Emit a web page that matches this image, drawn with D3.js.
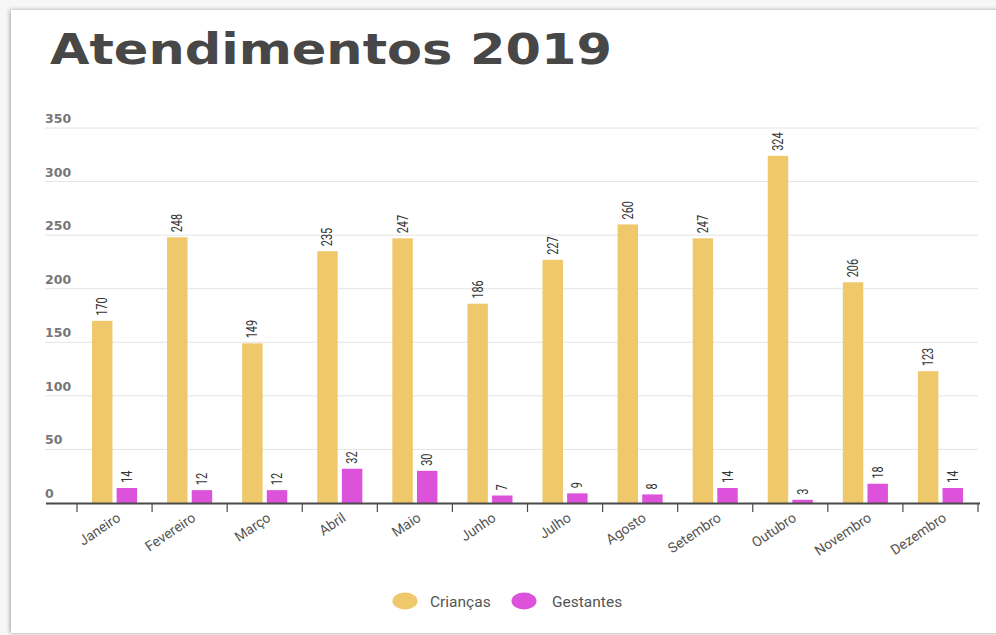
<!DOCTYPE html>
<html>
<head>
<meta charset="utf-8">
<script src="https://cdn.jsdelivr.net/npm/d3@7"></script>
<style>
  html, body { margin: 0; padding: 0; background: #ffffff; }
  svg { display: block; }
</style>
</head>
<body>
<svg id="chart" width="996" height="635"></svg>
<script>
// Monthly attendance, 2019
const months = ["Janeiro", "Fevereiro", "Março", "Abril", "Maio", "Junho",
                "Julho", "Agosto", "Setembro", "Outubro", "Novembro", "Dezembro"];
const criancas = [170, 248, 149, 235, 247, 186, 227, 260, 247, 324, 206, 123];
const gestantes = [14, 12, 12, 32, 30, 7, 9, 8, 14, 3, 18, 14];
const seriesNames = ["Crianças", "Gestantes"];
const seriesColors = ["#EEC86A", "#DD52DA"];
const yTicks = [0, 50, 100, 150, 200, 250, 300, 350];

const rows = months.map((m, i) => ({ month: m, values: [criancas[i], gestantes[i]] }));

const svg = d3.select("#chart");

// card with soft shadow
const defs = svg.append("defs");
const f = defs.append("filter").attr("id", "shadow")
  .attr("x", "-5%").attr("y", "-5%").attr("width", "110%").attr("height", "110%");
f.append("feDropShadow").attr("dx", -1).attr("dy", 0).attr("stdDeviation", 2)
  .attr("flood-color", "#000").attr("flood-opacity", 0.35);
svg.append("rect").attr("width", 996).attr("height", 635).attr("fill", "#f7f7f7");
svg.append("rect").attr("x", 11).attr("y", 10).attr("width", 1000).attr("height", 623)
  .attr("fill", "#fff").attr("filter", "url(#shadow)");

// title
const title = svg.append("text")
  .attr("x", 50).attr("y", 64)
  .attr("font-family", "'DejaVu Sans', sans-serif")
  .attr("font-weight", "bold")
  .attr("font-size", 43)
  .attr("fill", "#474747")
  .text("Atendimentos 2019");
title.attr("textLength", 562).attr("lengthAdjust", "spacingAndGlyphs");

const plotLeft = 77, plotRight = 978, plotTop = 128, plotBottom = 503;

const y = d3.scaleLinear().domain([0, 350]).range([plotBottom, plotTop]);
const x0 = d3.scaleBand().domain(months).range([plotLeft, plotRight]).paddingInner(0).paddingOuter(0);
const x1 = d3.scaleBand().domain([0, 1]).range([15, x0.bandwidth() - 15]).paddingInner(0.17);

// gridlines + y labels
const grid = svg.append("g");
grid.selectAll("line").data(yTicks.filter(d => d > 0)).join("line")
  .attr("x1", 45).attr("x2", plotRight)
  .attr("y1", d => y(d)).attr("y2", d => y(d))
  .attr("stroke", "#e4e4e4").attr("stroke-width", 1);
grid.selectAll("text").data(yTicks).join("text")
  .attr("x", 45).attr("y", d => y(d) - 5)
  .attr("font-family", "'DejaVu Sans', sans-serif")
  .attr("font-weight", "bold")
  .attr("font-size", 12.5)
  .attr("fill", "#777")
  .text(d => d);

// bars
const groups = svg.append("g").selectAll("g").data(rows).join("g")
  .attr("transform", d => `translate(${x0(d.month)},0)`);
groups.selectAll("rect").data(d => d.values).join("rect")
  .attr("x", (d, i) => x1(i))
  .attr("width", x1.bandwidth())
  .attr("y", d => y(d))
  .attr("height", d => y(0) - y(d))
  .attr("fill", (d, i) => seriesColors[i]);
// value labels, condensed and rotated
groups.selectAll("text").data(d => d.values).join("text")
  .attr("transform", (d, i) => `translate(${x1(i) + x1.bandwidth() / 2 + 5},${y(d) - 5}) rotate(-90) scale(0.78,1)`)
  .attr("font-family", "'Roboto', sans-serif")
  .attr("font-size", 14)
  .attr("fill", "#333")
  .text(d => d);

// x axis
const xAxis = svg.append("g");
xAxis.append("line").attr("x1", 46).attr("x2", 980)
  .attr("y1", plotBottom + 0.5).attr("y2", plotBottom + 0.5)
  .attr("stroke", "#4a4a4a").attr("stroke-width", 2);
const bounds = months.map(m => x0(m)).concat([plotRight]);
xAxis.selectAll("line.tick").data(bounds).join("line")
  .attr("class", "tick")
  .attr("x1", d => d).attr("x2", d => d)
  .attr("y1", plotBottom).attr("y2", plotBottom + 9)
  .attr("stroke", "#4a4a4a").attr("stroke-width", 1.2);
xAxis.selectAll("text").data(months).join("text")
  .attr("transform", d => `translate(${x0(d) + x0.bandwidth() / 2 + 7},${plotBottom + 17}) rotate(-34)`)
  .attr("text-anchor", "end")
  .attr("font-family", "'Roboto', sans-serif")
  .attr("font-size", 14)
  .attr("fill", "#555")
  .text(d => d);

// legend
const legend = svg.append("g");
const legendItems = [{ cx: 405, tx: 430 }, { cx: 524, tx: 552 }];
legendItems.forEach((p, i) => {
  legend.append("ellipse").attr("cx", p.cx).attr("cy", 601)
    .attr("rx", 12.5).attr("ry", 8.5).attr("fill", seriesColors[i]);
  legend.append("text").attr("x", p.tx).attr("y", 606.5)
    .attr("font-family", "'Roboto', sans-serif")
    .attr("font-size", 15.5)
    .attr("fill", "#555")
    .text(seriesNames[i]);
});
</script>
</body>
</html>
